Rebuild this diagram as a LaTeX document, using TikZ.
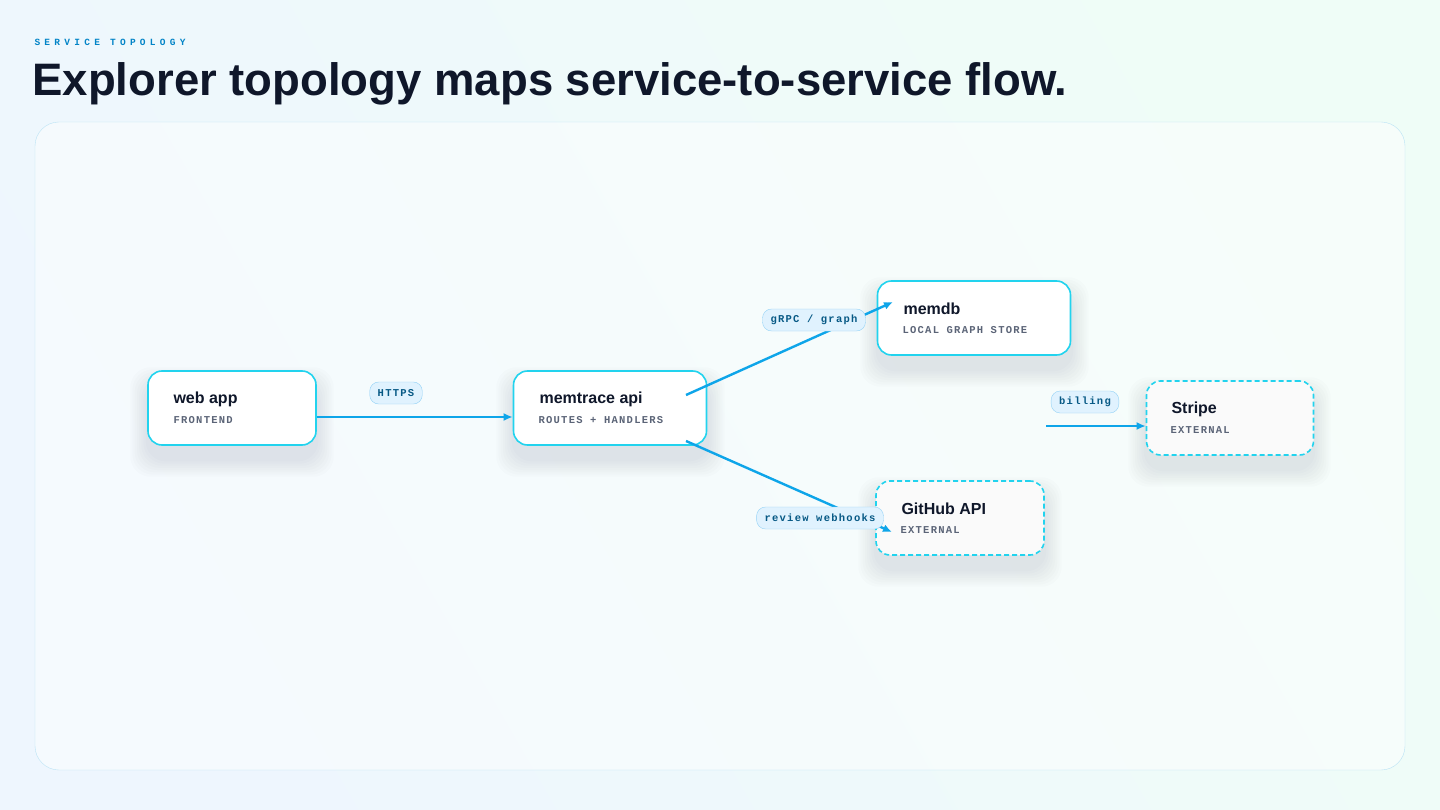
\documentclass[tikz,border=0pt]{standalone}
\usepackage{fontspec}
\setmainfont{Liberation Sans}
\newfontfamily\hd{Liberation Sans}
\newfontfamily\mn{Liberation Mono}[LetterSpace=12]
\newfontfamily\mnk{Liberation Mono}[LetterSpace=45]
\usetikzlibrary{arrows.meta}
\definecolor{bgA}{HTML}{EEF6FE}
\definecolor{bgB}{HTML}{EFFDF7}
\definecolor{ink}{HTML}{0F172A}
\definecolor{sub}{HTML}{5B6477}
\definecolor{cyanb}{HTML}{22D3EE}
\definecolor{edge}{HTML}{0EA5E9}
\definecolor{pill}{HTML}{E0F2FE}
\definecolor{pillb}{HTML}{93D2F6}
\definecolor{pillt}{HTML}{075985}
\definecolor{panelb}{HTML}{BAE3F5}
\definecolor{kick}{HTML}{0284C7}
\definecolor{shd}{HTML}{64748B}
\tikzset{
 x=1pt,y=-1pt,
 svc/.style={draw=cyanb,line width=1.6pt,rounded corners=14pt,fill=white,minimum width=#1,minimum height=74pt},
 ext/.style={svc=#1,dashed,dash pattern=on 5pt off 3pt,fill=gray!4},
 conn/.style={draw=edge,line width=2.4pt,-{Latex[length=9pt,width=8pt]}},
 lab/.style={draw=pillb,fill=pill,rounded corners=9pt,inner xsep=8pt,minimum height=22pt,font=\mn\bfseries\fontsize{10.5}{10}\selectfont,text=pillt},
 ttl/.style={font=\hd\bfseries\fontsize{16}{16}\selectfont,text=ink,anchor=west},
 st/.style={font=\mn\bfseries\fontsize{10.5}{10}\selectfont,text=sub,anchor=west},
}
\newcommand\softshadow[3]{% center, width
  \foreach \k in {1,...,8}{
    \fill[shd,opacity=0.018,rounded corners=20pt] ([xshift=-\k*2.2pt,yshift=-14pt+\k*2.2pt]#1) rectangle ([xshift=#2+\k*2.2pt,yshift=-14pt-74pt-\k*2.2pt]#1);
  }}
\begin{document}
\begin{tikzpicture}
\shade[left color=bgA,right color=bgB,shading angle=120] (0,0) rectangle (1440,810);
\useasboundingbox (0,0) rectangle (1440,810);
\node[anchor=west,text=kick,font=\mnk\bfseries\fontsize{9.5}{10}\selectfont] (kicker) at (31,42) {SERVICE TOPOLOGY};
\node[anchor=west,text=ink,font=\hd\bfseries\fontsize{45.5}{45}\selectfont] (title) at (29,84) {Explorer topology maps service-to-service flow.};
\draw[draw=panelb,fill=white,fill opacity=0.45,rounded corners=24pt] (35,122) rectangle (1405,770);
\softshadow{148,371}{168pt}{}
\softshadow{514,371}{193pt}{}
\softshadow{878,281}{193pt}{}
\softshadow{876,481}{168pt}{}
\softshadow{1146,381}{167pt}{}
\node[svc=168pt] (web) at (232,408) {};
\node[ttl] at (170,399) {web app};
\node[st] at (170,420) {FRONTEND};
\node[svc=193pt] (api) at (610,408) {};
\node[ttl] at (536,399) {memtrace api};
\node[st] at (535,420) {ROUTES + HANDLERS};
\node[svc=193pt] (db) at (974,318) {};
\node[ttl] at (900,309) {memdb};
\node[st] at (899,330) {LOCAL GRAPH STORE};
\node[ext=168pt] (gh) at (960,518) {};
\node[ttl] at (898,509) {GitHub API};
\node[st] at (897,530) {EXTERNAL};
\node[ext=167pt] (stripe) at (1230,418) {};
\node[ttl] at (1168,409) {Stripe};
\node[st] at (1167,430) {EXTERNAL};
\coordinate (a1) at (686,395);
\coordinate (a2) at (686,441);
\coordinate (g1) at (893,302);
\coordinate (g2) at (892,532);
\coordinate (b0) at (1046,426);
\draw[conn] (web.east |- 0,417) -- (api.west |- 0,417);
\draw[conn] (a1) -- (g1);
\draw[conn] (a2) -- (g2);
\draw[conn] (b0) -- (stripe.west |- b0);
\node[lab] (l1) at (396,393) {HTTPS};
\node[lab] (l2) at (814,320) {gRPC / graph};
\node[lab] (l3) at (820,518) {review webhooks};
\node[lab] (l4) at (1085,402) {billing};
\end{tikzpicture}
\end{document}
